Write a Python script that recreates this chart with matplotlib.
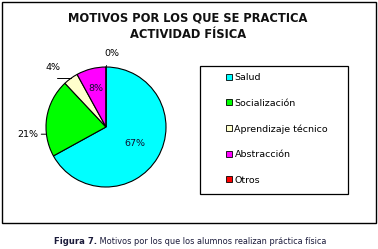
import numpy as np
import matplotlib
matplotlib.use("Agg")
import matplotlib.pyplot as plt
from matplotlib.patches import Rectangle

# ---- data ----
categories = ["Salud", "Socialización", "Aprendizaje técnico", "Abstracción", "Otros"]
values = [67, 21, 4, 8, 0]
pct_labels = ["67%", "21%", "4%", "8%", "0%"]
colors = ["#00FFFF", "#00FF00", "#FFFFCC", "#FF00FF", "#FF0000"]
title = "MOTIVOS POR LOS QUE SE PRACTICA\nACTIVIDAD FÍSICA"
caption_bold = "Figura 7."
caption_rest = " Motivos por los que los alumnos realizan práctica física"

W, H = 378, 249
fig = plt.figure(figsize=(W / 100, H / 100), dpi=100)
plt.rcParams['font.family'] = ['DejaVu Sans']

def fx(px):
    return px / W

def fy(py):
    return 1 - py / H

# outer frame
fig.patches.append(Rectangle((fx(2), fy(223)), fx(374), 221 / H, transform=fig.transFigure,
                             fill=False, edgecolor="black", linewidth=1.0))

# title
fig.text(fx(188), fy(26), title, ha="center", va="center", fontsize=8.3,
         fontweight="bold", linespacing=1.3, color="#101010")

# pie axes: centre (106,127) px, radius 60 px
ax = fig.add_axes([fx(6), fy(207), 200 / W, 160 / H])
wedges, _ = ax.pie(values, colors=colors, startangle=90, counterclock=False, radius=1.0,
                   wedgeprops=dict(edgecolor="black", linewidth=0.8))
ax.set_xlim(-100 / 60, 100 / 60)
ax.set_ylim(-80 / 60, 80 / 60)
ax.set_aspect("auto")
ax.axis("off")

fs = 6.8
layout = {
    0: dict(kind="in", r=0.55),
    3: dict(kind="in", r=0.66),
    1: dict(kind="out", text=(-1.30, -0.12), anchor=(-1.0, -0.12), conn="arc3", shrink=9),
    2: dict(kind="out", text=(-0.88, 1.00), anchor=None,
            conn="angle,angleA=-90,angleB=180,rad=0", shrink=4),
    4: dict(kind="out", text=(0.10, 1.23), anchor=None, conn="arc3", shrink=4),
}
for i, w in enumerate(wedges):
    mid = np.deg2rad((w.theta1 + w.theta2) / 2)
    L = layout[i]
    if L["kind"] == "in":
        ax.text(L["r"] * np.cos(mid), L["r"] * np.sin(mid), pct_labels[i], ha="center",
                va="center", fontsize=fs, color="#101030")
    else:
        anchor = L["anchor"] if L["anchor"] is not None else (np.cos(mid), np.sin(mid))
        ax.annotate(pct_labels[i], xy=anchor, xytext=L["text"], ha="center", va="center",
                    fontsize=fs, color="black",
                    arrowprops=dict(arrowstyle="-", color="black", lw=0.7,
                                    connectionstyle=L["conn"], shrinkA=L["shrink"], shrinkB=0))

# legend box
fig.patches.append(Rectangle((fx(200), fy(194)), 148 / W, 128 / H, transform=fig.transFigure,
                             fill=False, edgecolor="black", linewidth=0.9))
leg = fig.legend(wedges, categories, loc="upper left", bbox_to_anchor=(fx(226), fy(73)),
                 frameon=False, fontsize=fs, handlelength=0.65, handleheight=0.65,
                 handletextpad=0.25, labelspacing=1.75, borderpad=0, borderaxespad=0)
for h in leg.legend_handles:
    h.set_linewidth(0.6)

# caption
t1 = fig.text(fx(54), fy(241), caption_bold, ha="left", va="center", fontsize=6.1,
              fontweight="bold", color="#1a1a3a")
fig.canvas.draw()
bb = t1.get_window_extent()
fig.text(bb.x1 / W, fy(241), caption_rest, ha="left", va="center", fontsize=5.85,
         color="#1a1a3a")

fig.savefig("out.png", dpi=100)
